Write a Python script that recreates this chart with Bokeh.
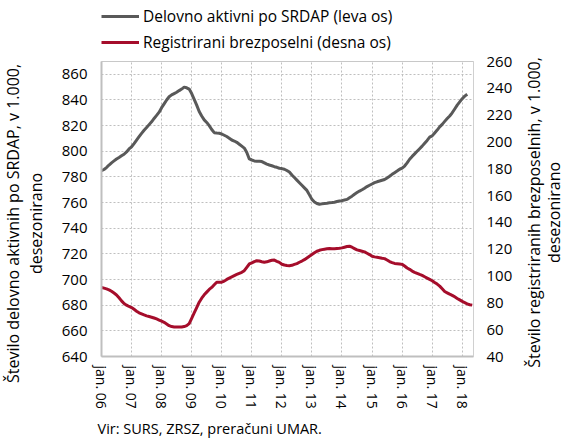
import math
from bokeh.plotting import figure
from bokeh.layouts import row, column
from bokeh.models import Range1d, LinearAxis, FixedTicker, Legend, LegendItem, Title
from bokeh.core.properties import value
from bokeh.embed import file_html
from bokeh.resources import INLINE

# Delovno aktivni po SRDAP (v 1.000), monthly from jan 2006
grey = [
    784.8, 785.8, 787.3, 789.3, 791.0, 792.5, 794.0, 795.2, 796.5, 797.7, 799.5, 801.8,
    803.5, 806.0, 808.7, 811.4, 814.0, 816.4, 818.5, 820.8, 823.0, 825.6, 828.0, 830.5,
    834.0, 837.0, 840.0, 842.5, 844.0, 845.0, 846.0, 847.3, 848.5, 850.0, 849.5, 848.5,
    845.0, 840.5, 836.0, 831.0, 827.5, 824.5, 822.5, 820.0, 817.0, 814.5, 814.2, 814.0,
    813.5, 812.5, 811.5, 810.2, 808.8, 808.0, 807.0, 805.5, 804.0, 802.5, 799.0, 794.0,
    793.2, 792.5, 792.2, 792.2, 792.0, 791.0, 790.0, 789.3, 788.7, 788.0, 787.5, 786.8,
    786.5, 786.0, 785.0, 783.8, 781.5, 779.5, 777.5, 775.5, 773.5, 771.5, 769.5, 766.0,
    762.5, 760.5, 759.3, 758.7, 759.0, 759.3, 759.5, 759.8, 760.0, 760.3, 760.8, 761.2,
    761.5, 762.0, 762.5, 763.8, 765.0, 766.5, 767.8, 769.0, 770.0, 771.2, 772.5, 773.5,
    774.5, 775.5, 776.2, 776.8, 777.4, 778.0, 779.2, 780.5, 782.0, 783.3, 784.6, 786.0,
    786.8, 788.5, 791.0, 793.8, 796.0, 798.0, 800.0, 802.0, 804.0, 806.3, 808.5, 811.0,
    812.0, 814.3, 816.5, 819.0, 821.0, 823.3, 825.5, 827.5, 830.0, 833.0, 836.0, 838.5,
    841.0, 843.0, 844.5,
]

# Registrirani brezposelni (v 1.000), monthly from jan 2006
red = [
    91.5, 91.0, 90.4, 89.7, 88.6, 87.3, 85.9, 83.8, 81.5, 79.5, 78.3, 77.3,
    76.5, 75.2, 73.8, 72.6, 71.8, 71.0, 70.3, 69.8, 69.3, 68.7, 68.0, 67.2,
    66.4, 65.5, 64.3, 63.0, 62.3, 62.0, 62.0, 62.0, 62.0, 62.3, 63.0, 64.5,
    68.5, 72.5, 76.5, 80.5, 83.5, 86.0, 88.0, 90.0, 91.5, 93.5, 95.4, 95.4,
    95.4, 96.2, 97.5, 98.5, 99.4, 100.3, 101.2, 102.0, 102.8, 104.0, 106.5, 109.0,
    109.8, 110.8, 111.4, 111.2, 110.7, 110.3, 110.6, 111.2, 111.8, 111.9, 111.0, 110.2,
    108.8, 108.2, 107.8, 107.7, 108.0, 108.7, 109.3, 110.3, 111.2, 112.2, 113.5, 114.8,
    116.0, 117.3, 118.5, 119.2, 119.7, 120.0, 120.3, 120.5, 120.3, 120.3, 120.5, 120.7,
    121.0, 121.5, 122.0, 122.2, 121.5, 120.5, 119.5, 119.0, 118.5, 118.0, 117.0, 116.0,
    114.8, 114.3, 114.0, 113.7, 113.3, 113.0, 112.0, 110.8, 110.0, 109.4, 109.2, 109.0,
    108.7, 107.5, 106.0, 105.0, 103.7, 102.8, 102.0, 101.2, 100.5, 99.5, 98.5, 97.5,
    96.5, 95.2, 94.0, 92.5, 90.5, 88.5, 87.5, 86.5, 85.6, 84.5, 83.3, 82.2,
    81.1, 80.2, 79.3, 78.6, 78.3,
]

x_grey = list(range(len(grey)))
x_red = list(range(len(red)))

year_ticks = list(range(0, 145, 12))
year_labels = ["jan. 06", "jan. 07", "jan. 08", "jan. 09", "jan. 10", "jan. 11", "jan. 12",
               "jan. 13", "jan. 14", "jan. 15", "jan. 16", "jan. 17", "jan. 18"]
left_ticks = list(range(640, 861, 20))
right_ticks = list(range(40, 261, 20))

legend_labels = ["Delovno aktivni po SRDAP (leva os)", "Registrirani brezposelni (desna os)"]
left_title = ["Število delovno aktivnih po SRDAP, v 1.000,", "desezonirano"]
right_title = ["Število registriranih brezposelnih, v 1.000,", "desezonirano"]
source_text = "Vir: SURS, ZRSZ, preračuni UMAR."

FONT = "Open Sans"
GREY = "#595959"
RED = "#A50D2B"
H = 443          # total height
LEG_H = 52       # legend strip above the plot
LEFT_W = 58
MAIN_W = 457
RIGHT_W = 49


def blank_fig(width, height):
    return figure(width=width, height=height, output_backend="svg", toolbar_location=None,
                  x_range=Range1d(0, width), y_range=Range1d(0, height),
                  x_axis_type=None, y_axis_type=None, min_border=0,
                  outline_line_color=None)


def title_fig(width, xs, ys, lines, size):
    f = blank_fig(width, H)
    f.text(x=xs, y=ys, text=lines, angle=math.pi / 2, text_align="center",
           text_baseline="middle", text_font=value(FONT), text_font_size=size,
           text_color="black")
    return f


left_fig = title_fig(LEFT_W, [12, 35], [220, 220], left_title, "16px")
right_fig = title_fig(RIGHT_W, [18, 38], [231, 231], right_title, "16px")

# legend strip (its renderers hold the series but lie outside this strip's ranges)
leg_fig = blank_fig(MAIN_W, LEG_H)
lr1 = leg_fig.line(x_grey, grey, line_color=GREY, line_width=3)
lr2 = leg_fig.line(x_red, red, line_color=RED, line_width=3)
legend = Legend(items=[
    LegendItem(label=legend_labels[0], renderers=[lr1]),
    LegendItem(label=legend_labels[1], renderers=[lr2]),
], location=(0, -1), orientation="vertical", background_fill_alpha=0,
    border_line_color=None, padding=0, margin=0, spacing=4, glyph_width=38,
    glyph_height=22, label_height=22, label_standoff=4,
    label_text_font_size="15.5px", label_text_font=FONT, label_text_color="black")
leg_fig.add_layout(legend, "center")

# main chart
p = figure(width=MAIN_W, height=H - LEG_H, output_backend="svg", toolbar_location=None,
           x_range=Range1d(0, 148.5), y_range=Range1d(640, 870),
           min_border_left=41, min_border_right=40, min_border_top=9, min_border_bottom=84)
p.extra_y_ranges = {"right": Range1d(40, 260)}

p.line(x_grey, grey, line_color=GREY, line_width=3, line_join="round")
p.line(x_red, red, line_color=RED, line_width=3, line_join="round", y_range_name="right")

axr = LinearAxis(y_range_name="right", ticker=FixedTicker(ticks=right_ticks))
p.add_layout(axr, "right")

axl = p.left[0]
axb = p.below[0]
axl.ticker = FixedTicker(ticks=left_ticks)
axb.ticker = FixedTicker(ticks=year_ticks)
axb.major_label_overrides = {t: lab for t, lab in zip(year_ticks, year_labels)}
axb.major_label_orientation = "vertical"

for ax in (axl, axr, axb):
    ax.major_tick_line_color = None
    ax.minor_tick_line_color = None
    ax.major_tick_out = 0
    ax.major_tick_in = 0
    ax.minor_tick_out = 0
    ax.minor_tick_in = 0
    ax.major_label_text_font = FONT
    ax.major_label_text_color = "black"

axl.major_label_text_font_size = "15px"
axr.major_label_text_font_size = "15px"
axb.major_label_text_font_size = "14px"
axl.major_label_standoff = 14
axr.major_label_standoff = 13
axb.major_label_standoff = 9

axl.axis_line_color = "#BFBFBF"
axl.axis_line_width = 2
axb.axis_line_color = "#BFBFBF"
axb.axis_line_width = 2
axr.axis_line_color = "#D0D0D0"

p.outline_line_color = "#C8C8C8"
p.xgrid.grid_line_color = "#BFBFBF"
p.xgrid.grid_line_dash = "2 2"
p.ygrid.grid_line_color = "#BFBFBF"
p.ygrid.grid_line_dash = "2 2"

src = Title(text=source_text, align="left", offset=-4, standoff=11,
            text_font=FONT, text_font_size="14.5px", text_font_style="normal",
            text_color="black")
p.add_layout(src, "below")

layout = row(left_fig, column(leg_fig, p, spacing=0), right_fig, spacing=0)
open("out.html", "w").write(file_html(layout, INLINE))
